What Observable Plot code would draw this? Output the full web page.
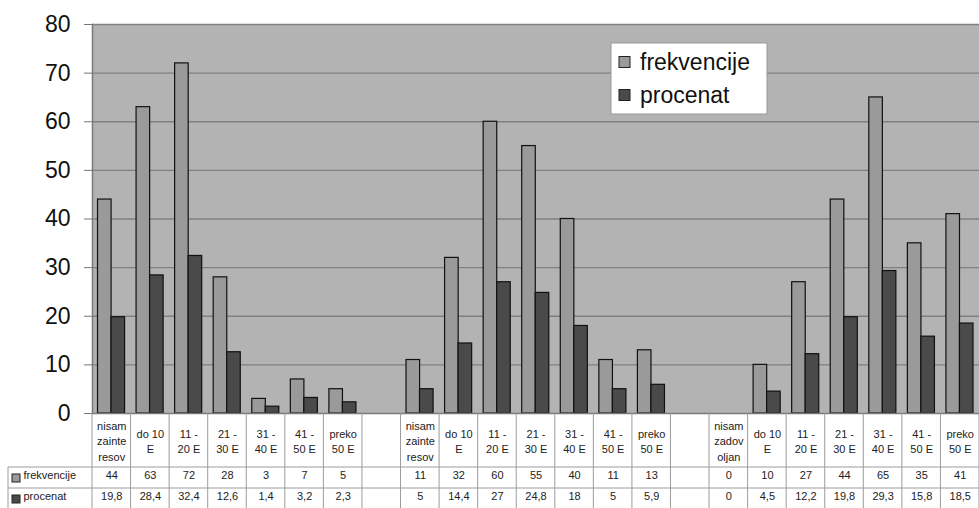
<!DOCTYPE html>
<html><head><meta charset="utf-8">
<script src="https://cdn.jsdelivr.net/npm/d3@7"></script>
<script src="https://cdn.jsdelivr.net/npm/@observablehq/plot@0.6"></script>
<style>
body{margin:0;background:#fff;}
#chart svg{display:block;font-family:"Liberation Sans",Arial,sans-serif;background:#fff;}
</style>
</head><body><div id="chart"></div>
<script>
// ---- data ----
const labelsA = ["nisam\nzainte\nresov","do 10\nE","11 -\n20 E","21 -\n30 E","31 -\n40 E","41 -\n50 E","preko\n50 E"];
const labelsB = ["nisam\nzainte\nresov","do 10\nE","11 -\n20 E","21 -\n30 E","31 -\n40 E","41 -\n50 E","preko\n50 E"];
const labelsC = ["nisam\nzadov\noljan","do 10\nE","11 -\n20 E","21 -\n30 E","31 -\n40 E","41 -\n50 E","preko\n50 E"];
const frekA = [44, 63, 72, 28, 3, 7, 5];
const frekB = [11, 32, 60, 55, 40, 11, 13];
const frekC = [0, 10, 27, 44, 65, 35, 41];
const procA = [19.8, 28.4, 32.4, 12.6, 1.4, 3.2, 2.3];
const procB = [5, 14.4, 27, 24.8, 18, 5, 5.9];
const procC = [0, 4.5, 12.2, 19.8, 29.3, 15.8, 18.5];
const yTicks = [0, 10, 20, 30, 40, 50, 60, 70, 80];
const seriesNames = ["frekvencije", "procenat"];

// ---- table of columns (blank column between groups) ----
const labels = [...labelsA, "", ...labelsB, "", ...labelsC];
const frek = [...frekA, null, ...frekB, null, ...frekC];
const proc = [...procA, null, ...procB, null, ...procC];
const rows = labels.map((label, i) => ({key: "c" + i, label, frek: frek[i], proc: proc[i]}));
const keys = rows.map(d => d.key);
const dataRows = rows.filter(d => d.frek != null);
const fmt = v => String(v).replace(".", ",");

const LIGHT = "#9a9a9a", DARK = "#4a4a4a", BG = "#b3b3b3", GRID = "#808080", LINE = "#9c9c9c";

function tableAndLegend(index, scales, values, dims) {
  const x = scales.x;
  const bw = x.bandwidth ? x.bandwidth() : (x(keys[1]) - x(keys[0]));
  const top = dims.height - dims.marginBottom;
  const H = dims.height;
  const g = d3.create("svg:g");
  const xs = keys.map(k => x(k));
  xs.push(xs[xs.length - 1] + bw);
  const right = xs[xs.length - 1];
  for (const xv of xs) {
    g.append("line").attr("x1", xv).attr("x2", xv).attr("y1", top).attr("y2", H)
      .attr("stroke", LINE).attr("stroke-width", 1);
  }
  const rowTop = top + 54, rowMid = top + 75;
  const left = dims.marginLeft - 84;
  g.append("line").attr("x1", left).attr("x2", left).attr("y1", rowTop).attr("y2", H).attr("stroke", LINE);
  for (const yv of [rowTop, rowMid]) {
    g.append("line").attr("x1", left).attr("x2", right).attr("y1", yv).attr("y2", yv).attr("stroke", LINE);
  }
  // swatches in table
  [[rowTop + 11, LIGHT], [rowMid + 11, DARK]].forEach(([cy, c]) => {
    g.append("rect").attr("x", left + 4).attr("y", cy - 4).attr("width", 8).attr("height", 8)
      .attr("fill", c).attr("stroke", "#222");
  });
  // legend box inside plot
  const lx = dims.marginLeft + 519, ly = dims.marginTop + 19;
  const lg = g.append("g").attr("text-anchor", "start");
  lg.append("rect").attr("x", lx).attr("y", ly).attr("width", 156).attr("height", 71)
    .attr("fill", "#fff").attr("stroke", "#999");
  seriesNames.forEach((name, i) => {
    const cy = ly + 19 + i * 33;
    lg.append("rect").attr("x", lx + 8).attr("y", cy - 5.5).attr("width", 11).attr("height", 11)
      .attr("fill", i === 0 ? LIGHT : DARK).attr("stroke", "#222");
    lg.append("text").attr("x", lx + 29).attr("y", cy).attr("dy", "0.36em")
      .attr("text-anchor", "start").attr("font-size", 23).attr("fill", "#111").text(name);
  });
  return g.node();
}

const chart = Plot.plot({
  width: 979,
  height: 508,
  marginLeft: 92,
  marginRight: 0,
  marginTop: 24,
  marginBottom: 95,
  style: {fontFamily: '"Liberation Sans", Arial, sans-serif', background: "#fff", overflow: "visible"},
  x: {type: "band", domain: keys, padding: 0, round: false, axis: null},
  y: {domain: [0, 80], ticks: yTicks, axis: null},
  marks: [
    Plot.frame({fill: BG, stroke: null}),
    Plot.ruleY(yTicks.filter(t => t > 0), {stroke: GRID, strokeWidth: 1.4}),
    Plot.barY(dataRows, {x: "key", y: "frek", fill: LIGHT, stroke: "#111", strokeWidth: 1.2, insetLeft: 5.5, insetRight: 19.5}),
    Plot.barY(dataRows, {x: "key", y: "proc", fill: DARK, stroke: "#111", strokeWidth: 1.2, insetLeft: 19, insetRight: 6}),
    Plot.axisY({ticks: yTicks, tickSize: 8, tickPadding: 14, fontSize: 23, stroke: "#777", color: "#111", label: null}),
    Plot.frame({anchor: "left", stroke: "#7a7a7a", strokeWidth: 1.5}),
    Plot.ruleY([0], {stroke: "#7a7a7a", strokeWidth: 1.5}),
    tableAndLegend,
    Plot.text(rows, {x: "key", text: "label", frameAnchor: "bottom", dy: 27, lineAnchor: "middle", lineHeight: 1.4, fontSize: 11, fill: "#222"}),
    Plot.text(dataRows, {x: "key", text: d => fmt(d.frek), frameAnchor: "bottom", dy: 65, fontSize: 11, fill: "#222"}),
    Plot.text(dataRows, {x: "key", text: d => fmt(d.proc), frameAnchor: "bottom", dy: 86, fontSize: 11, fill: "#222"}),
    Plot.text([seriesNames[0]], {frameAnchor: "bottom-left", dx: -69, dy: 65, textAnchor: "start", fontSize: 11, fill: "#222"}),
    Plot.text([seriesNames[1]], {frameAnchor: "bottom-left", dx: -69, dy: 86, textAnchor: "start", fontSize: 11, fill: "#222"})
  ]
});
document.getElementById("chart").append(chart);
</script>
</body></html>
